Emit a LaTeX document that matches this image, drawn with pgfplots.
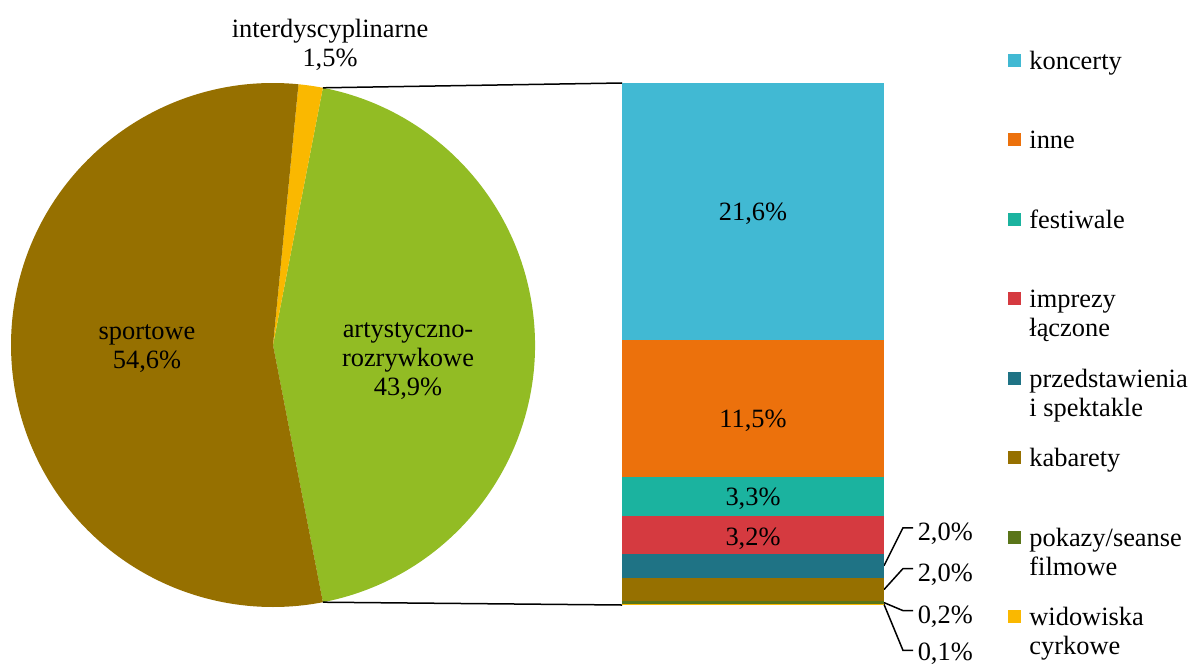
\documentclass[border=0pt]{standalone}
\usepackage{fontspec}
\setmainfont{Liberation Serif}
\usepackage{pgfplots}
\pgfplotsset{compat=1.18}

\definecolor{cKoncerty}{HTML}{41B9D3}
\definecolor{cInne}{HTML}{EC710C}
\definecolor{cFestiwale}{HTML}{1BB39F}
\definecolor{cImprezy}{HTML}{D53A40}
\definecolor{cPrzedst}{HTML}{1F7385}
\definecolor{cKabarety}{HTML}{967000}
\definecolor{cPokazy}{HTML}{5A7519}
\definecolor{cWidowiska}{HTML}{FAB800}
\definecolor{cArt}{HTML}{92BC24}
\definecolor{cSport}{HTML}{967000}
\definecolor{cInter}{HTML}{FAB800}

% two-line legend text with fixed line heights
\newcommand\two[2]{\strut #1\\\strut #2}

% shares of the pie (percent)
\def\shareArt{43.9}%
\def\shareInter{1.5}%
\def\shareSport{54.6}%

\begin{document}%
\begin{tikzpicture}[font=\fontsize{13.2}{14.5}\selectfont]
\pgfmathsetmacro\angA{-\shareArt*1.8}
\pgfmathsetmacro\angB{\shareArt*1.8}
\pgfmathsetmacro\angC{\angB+\shareInter*3.6}
\pgfmathsetmacro\angD{\angC+\shareSport*3.6}
% ---- pie ----
\begin{axis}[x=0.5pt, y=0.5pt, xmin=0, xmax=1197, ymin=0, ymax=666,
  hide axis, clip=false]
\fill[cArt]   (axis cs:273,321) -- ++(\angA:131pt) arc[start angle=\angA, end angle=\angB, radius=131pt] -- cycle;
\fill[cInter] (axis cs:273,321) -- ++(\angB:131pt) arc[start angle=\angB, end angle=\angC, radius=131pt] -- cycle;
\fill[cSport] (axis cs:273,321) -- ++(\angC:131pt) arc[start angle=\angC, end angle=\angD, radius=131pt] -- cycle;
% connectors to the breakdown bar
\draw[line width=0.75pt] (axis cs:273,321) ++(\angB:131pt) -- (axis cs:622,583);
\draw[line width=0.75pt] (axis cs:273,321) ++(\angA:131pt) -- (axis cs:622,61);
\node[align=center] at (axis cs:147,317) {sportowe\\54,6\%};
\node[align=center] at (axis cs:408,305) {artystyczno-\\rozrywkowe\\43,9\%};
\node[align=center] at (axis cs:330,621) {interdyscyplinarne\\1,5\%};
\end{axis}
% ---- breakdown of "artystyczno-rozrywkowe" ----
\begin{axis}[at={(311pt,30.5pt)}, anchor=south west, scale only axis,
  width=131pt, height=261pt, hide axis, clip=false,
  xmin=0, xmax=1, ymin=0, ymax=43.9,
  ybar stacked, bar width=131pt,
  reverse legend, legend cell align=left,
  legend style={draw=none, fill=none, at={(1.4733,1.066)}, anchor=north west,
    inner sep=0pt, row sep=13.6pt, column sep=4pt,
    nodes={inner sep=0pt, align=left}},
  legend image code/.code={\fill[#1] (0pt,4.25pt) rectangle (6.5pt,10.75pt);},
  % labels inside the larger segments, placed above the stacked bars
  after end axis/.code={
    \node[yshift=-1.2pt] at (axis cs:0.5,33.1) {21,6\%};
    \node[yshift=-1.2pt] at (axis cs:0.5,15.7) {11,5\%};
    \node[yshift=-1.2pt] at (axis cs:0.5,9.15) {3,3\%};
    \node[yshift=-1.2pt] at (axis cs:0.5,5.75) {3,2\%};
  }]
\addplot[fill=cWidowiska, draw=none] coordinates {(0.5,0.1)};
\addlegendentry{\two{widowiska}{cyrkowe}}
\addplot[fill=cPokazy, draw=none] coordinates {(0.5,0.2)};
\addlegendentry{\two{pokazy/seanse}{filmowe}}
\addplot[fill=cKabarety, draw=none] coordinates {(0.5,2.0)};
\addlegendentry{\two{kabarety}{}}
\addplot[fill=cPrzedst, draw=none] coordinates {(0.5,2.0)};
\addlegendentry{\two{przedstawienia}{i spektakle}}
\addplot[fill=cImprezy, draw=none] coordinates {(0.5,3.2)};
\addlegendentry{\two{imprezy}{łączone}}
\addplot[fill=cFestiwale, draw=none] coordinates {(0.5,3.3)};
\addlegendentry{\two{festiwale}{}}
\addplot[fill=cInne, draw=none] coordinates {(0.5,11.5)};
\addlegendentry{\two{inne}{}}
\addplot[fill=cKoncerty, draw=none] coordinates {(0.5,21.6)};
\addlegendentry{\two{koncerty}{}}
% leader lines for the thin segments
\draw[line width=0.75pt] (axis cs:1,3.3) -- ++(9.5pt,19pt) -- ++(5pt,0pt) node[anchor=west, inner sep=2pt, yshift=-3pt] {2,0\%};
\draw[line width=0.75pt] (axis cs:1,1.3) -- ++(9.5pt,10.5pt) -- ++(5pt,0pt) node[anchor=west, inner sep=2pt, yshift=-3pt] {2,0\%};
\draw[line width=0.75pt] (axis cs:1,0.2) -- ++(9.5pt,-4pt) -- ++(5pt,0pt) node[anchor=west, inner sep=2pt, yshift=-3pt] {0,2\%};
\draw[line width=0.75pt] (axis cs:1,0.05) -- ++(9.5pt,-23pt) -- ++(5pt,0pt) node[anchor=west, inner sep=2pt, yshift=-1.5pt] {0,1\%};
\end{axis}
\pgfresetboundingbox
\path (0,0) rectangle (598.5pt,333pt);
\end{tikzpicture}%
\end{document}
